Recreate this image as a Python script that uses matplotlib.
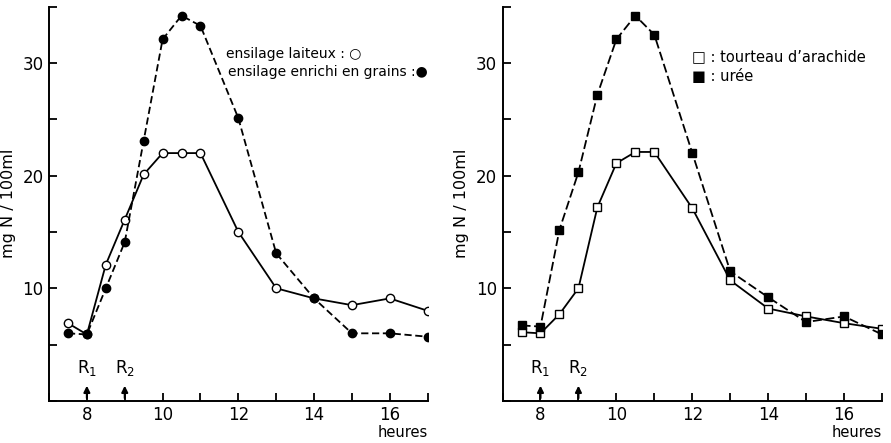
import numpy as np
import matplotlib
matplotlib.use('Agg')
import matplotlib.pyplot as plt
from matplotlib.ticker import MultipleLocator

# heures de prélèvement
heures = [7.5, 8, 8.5, 9, 9.5, 10, 10.5, 11, 12, 13, 14, 15, 16, 17]

# panneau gauche
laiteux = [6.9, 5.9, 12.1, 16.1, 20.1, 22.0, 22.0, 22.0, 15.0, 10.0, 9.1, 8.5, 9.1, 8.0]
enrichi = [6.0, 5.9, 10.0, 14.1, 23.1, 32.1, 34.2, 33.3, 25.1, 13.1, 9.1, 6.0, 6.0, 5.7]

# panneau droit
arachide = [6.1, 6.0, 7.7, 10.0, 17.2, 21.1, 22.1, 22.1, 17.1, 10.7, 8.2, 7.5, 6.9, 6.4]
uree = [6.7, 6.6, 15.2, 20.3, 27.2, 32.1, 34.2, 32.5, 22.0, 11.5, 9.2, 7.0, 7.5, 5.9]

repas = [8, 9]
repas_labels = ['R$_{\\mathsf{1}}$', 'R$_{\\mathsf{2}}$']

plt.rcParams['font.family'] = 'DejaVu Sans'
plt.rcParams['mathtext.fontset'] = 'dejavusans'

fig = plt.figure(figsize=(8.91, 4.43), dpi=100)
ax1 = fig.add_axes([0.055, 0.095, 0.425, 0.89])
ax2 = fig.add_axes([0.564, 0.095, 0.426, 0.89])


def style_axis(ax):
    ax.set_xlim(7, 17)
    ax.set_ylim(0, 35)
    for s in ['top', 'right']:
        ax.spines[s].set_visible(False)
    for s in ['left', 'bottom']:
        ax.spines[s].set_linewidth(1.4)
    ax.xaxis.set_minor_locator(MultipleLocator(1))
    ax.yaxis.set_minor_locator(MultipleLocator(5))
    ax.set_xticks([8, 10, 12, 14, 16])
    ax.set_xticklabels(['8', '10', '12', '14', '16'])
    ax.set_yticks([10, 20, 30])
    ax.tick_params(which='both', direction='in', width=1.3, labelsize=12)
    ax.tick_params(which='major', length=6, pad=4)
    ax.tick_params(which='minor', length=6)
    ax.set_ylabel('mg N / 100ml', fontsize=11.5)
    ax.yaxis.set_label_coords(-0.088, 0.5)
    ax.text(1.0, -0.08, 'heures', transform=ax.transAxes, ha='right', va='center', fontsize=10.5)
    for xr, lab in zip(repas, repas_labels):
        ax.annotate('', xy=(xr, 1.6), xytext=(xr, 0),
                    arrowprops=dict(arrowstyle='-|>', color='black', lw=1.5, mutation_scale=9))
        ax.text(xr, 2.0, lab, ha='center', va='bottom', fontsize=12)


style_axis(ax1)
style_axis(ax2)

ax1.plot(heures, laiteux, '-', color='black', lw=1.3, marker='o', ms=6,
         mfc='white', mec='black', mew=1.0, zorder=3)
ax1.plot(heures, enrichi, '--', color='black', lw=1.3, dashes=(4, 2), marker='o', ms=6,
         mfc='black', mec='black', zorder=3)
ax1.text(0.468, 0.88, 'ensilage laiteux : \u25cb', transform=ax1.transAxes, fontsize=10, va='center')
ax1.text(0.473, 0.834, 'ensilage enrichi en grains :\u25cf', transform=ax1.transAxes, fontsize=10, va='center')

ax2.plot(heures, arachide, '-', color='black', lw=1.3, marker='s', ms=5.5,
         mfc='white', mec='black', mew=1.0, zorder=3)
ax2.plot(heures, uree, '--', color='black', lw=1.3, dashes=(5, 2), marker='s', ms=5.5,
         mfc='black', mec='black', zorder=3)
ax2.text(0.50, 0.872, '\u25a1 : tourteau d\u2019arachide', transform=ax2.transAxes, fontsize=10.5, va='center')
ax2.text(0.50, 0.822, '\u25a0 : ur\u00e9e', transform=ax2.transAxes, fontsize=10.5, va='center')

fig.savefig('out.png', dpi=100)
